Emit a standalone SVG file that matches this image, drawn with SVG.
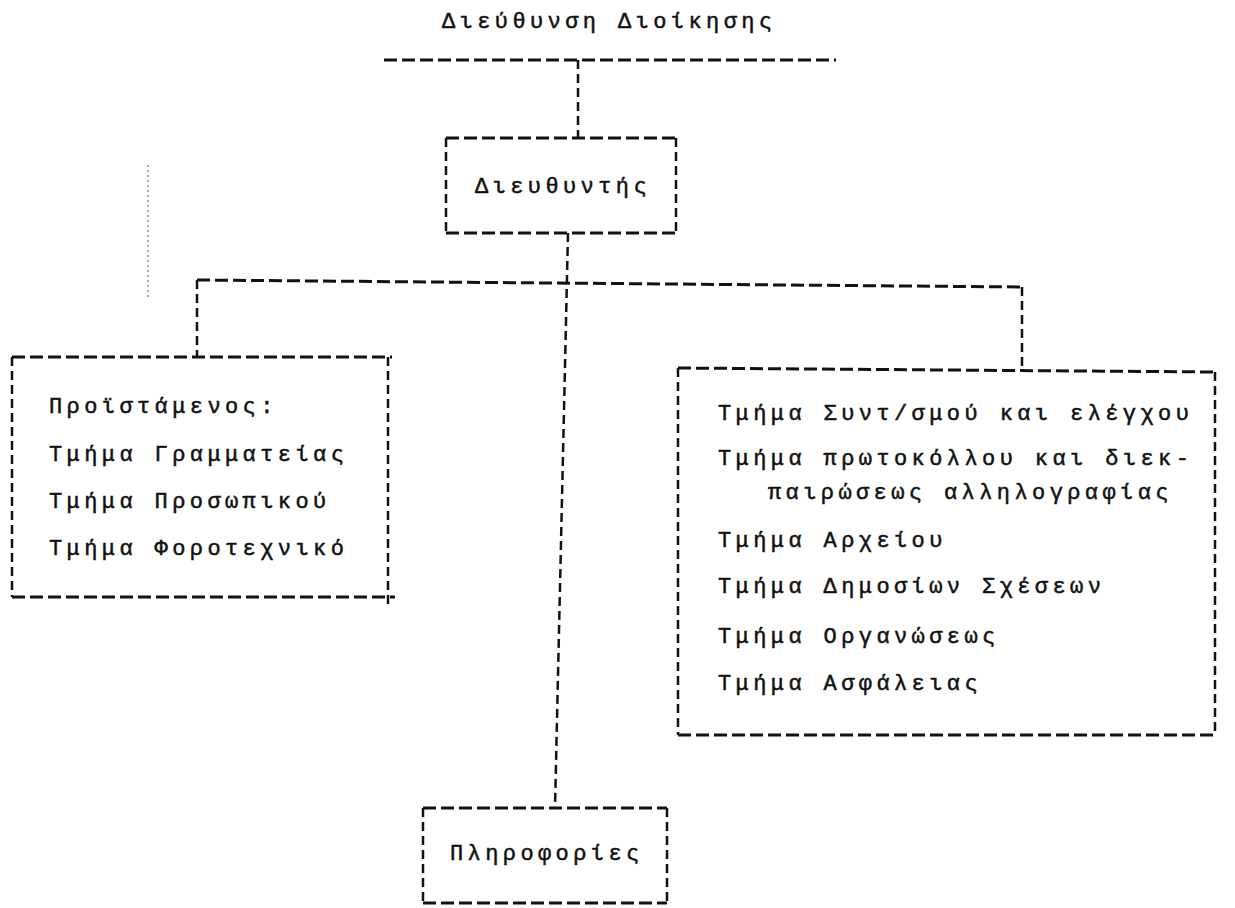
<svg xmlns="http://www.w3.org/2000/svg" width="1235" height="908" viewBox="0 0 1235 908">
<style>
  .bg { fill: #ffffff; }
  .t { font-family: "Liberation Mono", "DejaVu Sans Mono", monospace; font-size: 22px; letter-spacing: 4.4px; fill: #111111; stroke: #111111; stroke-width: 0.5; }
  .h { stroke: #111111; stroke-width: 3; stroke-dasharray: 13 5; fill: none; }
  .v { stroke: #111111; stroke-width: 2.5; stroke-dasharray: 9 5; fill: none; }
  .noise { stroke: #555555; stroke-width: 1; stroke-dasharray: 2 3; fill: none; }
</style>
<rect class="bg" x="0" y="0" width="1235" height="908"/>

<path class="noise" d="M148 165 L148 297"/>

<g id="title">
  <text class="t" x="442" y="28">Διεύθυνση Διοίκησης</text>
  <path class="h" d="M384 60 L836 60"/>
</g>

<g id="connectors">
  <path class="v" d="M578 60 L578 138"/>
  <path class="v" d="M568 233 L555 808"/>
  <path class="h" d="M197 280 L1022 287"/>
  <path class="v" d="M197 280 L197 357"/>
  <path class="v" d="M1022 287 L1022 368"/>
</g>

<g id="node-director">
  <path class="h" d="M446 138 L676 138"/>
  <path class="h" d="M446 233 L676 233"/>
  <path class="v" d="M446 138 L446 233"/>
  <path class="v" d="M676 138 L676 233"/>
  <text class="t" x="475" y="193">Διευθυντής</text>
</g>

<g id="node-left">
  <path class="h" d="M12 357 L392 357"/>
  <path class="h" d="M12 597 L395 597"/>
  <path class="v" d="M12 357 L12 597"/>
  <path class="v" d="M388 357 L388 608"/>
  <text class="t" x="49" y="413">Προϊστάμενος:</text>
  <text class="t" x="49" y="461">Τμήμα Γραμματείας</text>
  <text class="t" x="49" y="508">Τμήμα Προσωπικού</text>
  <text class="t" x="49" y="555">Τμήμα Φοροτεχνικό</text>
</g>

<g id="node-right">
  <path class="h" d="M678 368 L1215 372"/>
  <path class="h" d="M678 735 L1215 735"/>
  <path class="v" d="M678 368 L678 735"/>
  <path class="v" d="M1215 372 L1215 735"/>
  <text class="t" x="718" y="420">Τμήμα Συντ/σμού και ελέγχου</text>
  <text class="t" x="718" y="465">Τμήμα πρωτοκόλλου και διεκ-</text>
  <text class="t" x="768" y="499">παιρώσεως αλληλογραφίας</text>
  <text class="t" x="718" y="547">Τμήμα Αρχείου</text>
  <text class="t" x="718" y="593">Τμήμα Δημοσίων Σχέσεων</text>
  <text class="t" x="718" y="643">Τμήμα Οργανώσεως</text>
  <text class="t" x="718" y="690">Τμήμα Ασφάλειας</text>
</g>

<g id="node-info">
  <path class="h" d="M423 808 L667 808"/>
  <path class="h" d="M423 903 L667 903"/>
  <path class="v" d="M423 808 L423 903"/>
  <path class="v" d="M667 808 L667 903"/>
  <text class="t" x="450" y="860">Πληροφορίες</text>
</g>
</svg>
